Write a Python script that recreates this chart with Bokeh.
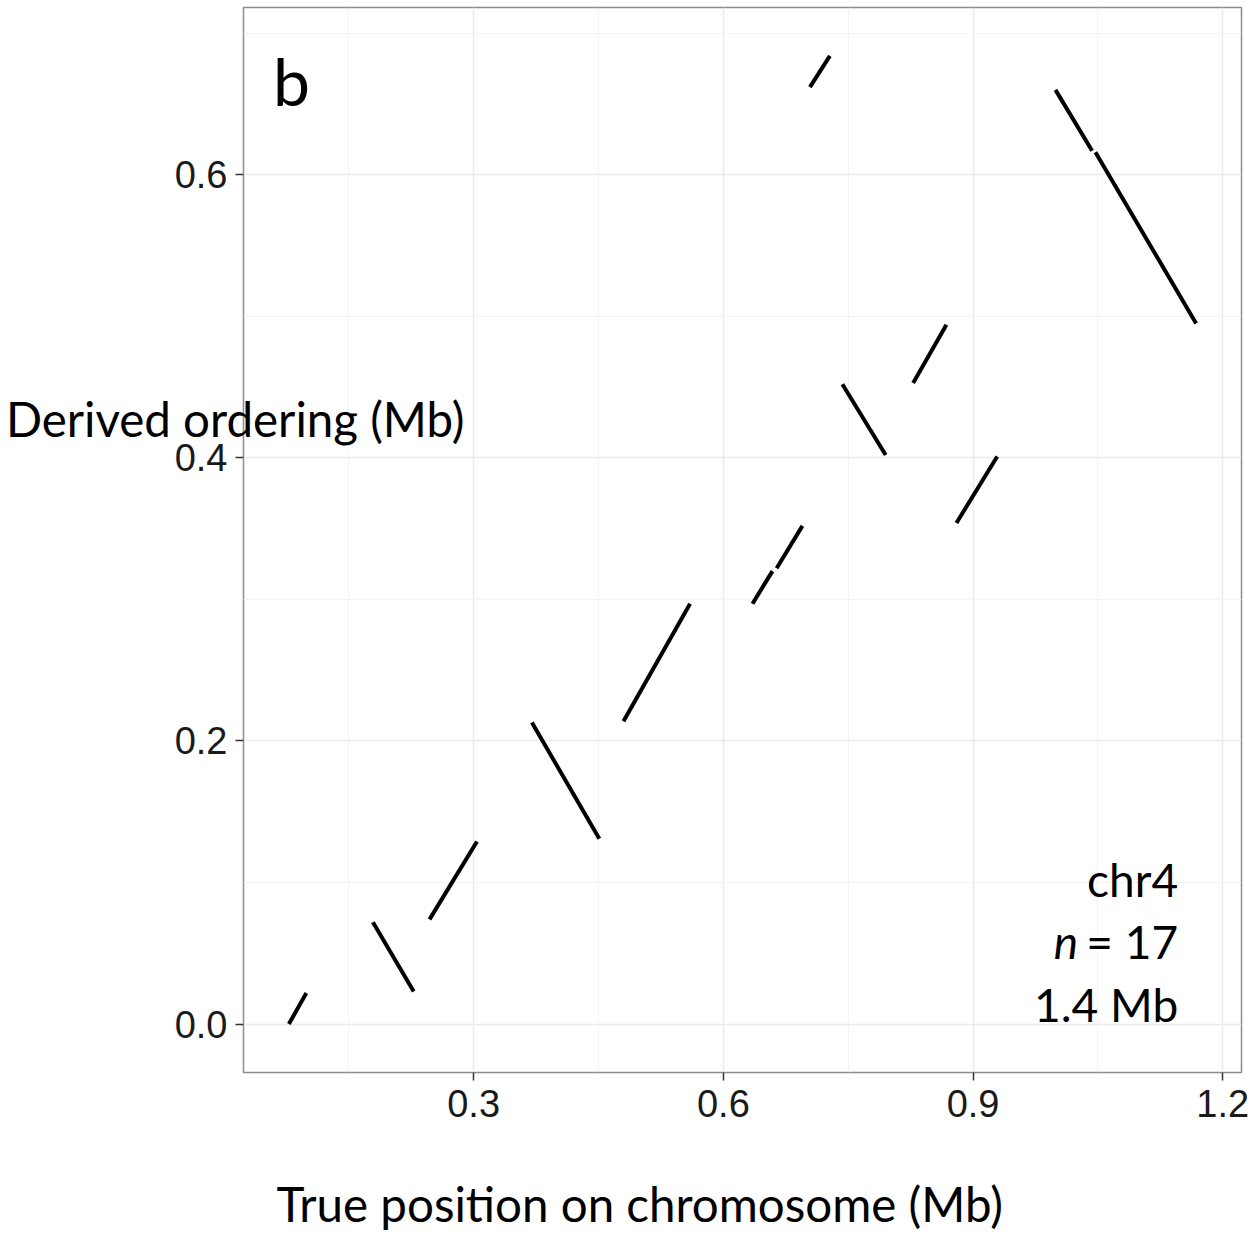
from bokeh.plotting import figure
from bokeh.models import Range1d, FixedTicker, PrintfTickFormatter, Label, LinearAxis
from bokeh.embed import file_html
from bokeh.resources import INLINE

# Syntenic blocks: true chromosome position vs. derived ordering (Mb)
true_start = [0.078, 0.179, 0.247, 0.370, 0.480, 0.635, 0.664, 0.704, 0.743, 0.828, 0.880, 0.999, 1.047]
true_end = [0.099, 0.228, 0.304, 0.451, 0.560, 0.659, 0.695, 0.728, 0.795, 0.868, 0.929, 1.043, 1.168]
derived_start = [0.000, 0.072, 0.074, 0.213, 0.214, 0.297, 0.322, 0.662, 0.452, 0.453, 0.354, 0.660, 0.616]
derived_end = [0.022, 0.023, 0.129, 0.131, 0.297, 0.320, 0.352, 0.684, 0.402, 0.494, 0.401, 0.617, 0.495]

x_ticks = [0.3, 0.6, 0.9, 1.2]
x_minor = [0.15, 0.45, 0.75, 1.05]
y_ticks = [0.0, 0.2, 0.4, 0.6]
y_minor = [0.1, 0.3, 0.5, 0.7]

x_title = "True position on chromosome (Mb)"
y_title = "Derived ordering (Mb)"
panel_tag = "b"
chrom_name = "chr4"
n_blocks = 17
chrom_len = "1.4 Mb"


def padded(lo, hi, frac=0.05):
    span = hi - lo
    return lo - span * frac, hi + span * frac


xs = true_start + true_end
ys = derived_start + derived_end
x_lo, x_hi = padded(min(xs), max(xs))
y_lo, y_hi = padded(min(ys), max(ys))

p = figure(
    width=1260, height=1234,
    x_range=Range1d(x_lo, x_hi), y_range=Range1d(y_lo, y_hi),
    output_backend="svg", toolbar_location=None,
    min_border_left=243, min_border_right=19,
    min_border_top=7, min_border_bottom=162,
)
p.background_fill_color = "white"
p.border_fill_color = "white"
p.outline_line_color = "#8c8c8c"
p.outline_line_width = 1.5

p.xaxis.ticker = FixedTicker(ticks=x_ticks, minor_ticks=x_minor)
p.yaxis.ticker = FixedTicker(ticks=y_ticks, minor_ticks=y_minor)
p.xgrid.ticker = p.xaxis.ticker
p.ygrid.ticker = p.yaxis.ticker
for ax in (p.xaxis, p.yaxis):
    ax.formatter = PrintfTickFormatter(format="%.1f")
    ax.axis_line_color = None
    ax.major_tick_line_color = "#333333"
    ax.major_tick_line_width = 1.5
    ax.major_tick_in = 0
    ax.major_tick_out = 8
    ax.minor_tick_line_color = None
    ax.major_label_text_font = "Liberation Sans"
    ax.major_label_text_font_size = "38px"
    ax.major_label_text_color = "#1a1a1a"
p.yaxis.major_label_standoff = 8
p.xaxis.major_label_standoff = 9

for g in (p.xgrid, p.ygrid):
    g.grid_line_color = "#ebebeb"
    g.grid_line_width = 1.5
    g.minor_grid_line_color = "#f3f3f3"
    g.minor_grid_line_width = 1

p.segment(x0=true_start, y0=derived_start, x1=true_end, y1=derived_end,
          line_color="black", line_width=4, line_cap="butt")

font = "Lato"


def title_axis(pos, text, standoff):
    ax = LinearAxis(ticker=FixedTicker(ticks=[pos], minor_ticks=[]),
                    major_label_overrides={pos: text})
    ax.axis_line_color = None
    ax.major_tick_line_color = None
    ax.minor_tick_line_color = None
    ax.major_tick_in = 0
    ax.major_tick_out = 0
    ax.major_label_standoff = standoff
    ax.major_label_text_font = font
    ax.major_label_text_font_size = "47.5px"
    ax.major_label_text_color = "black"
    return ax


# axis titles: horizontal y title reaching into the panel, x title centred on the page
p.add_layout(title_axis(0.428, y_title, -293), "left")
p.add_layout(title_axis(0.4995, x_title, 55), "below")

p.add_layout(Label(x=0.059, y=0.6667, text=panel_tag, text_font=font,
                   text_font_size="66px", text_color="black",
                   text_baseline="alphabetic"))

ann_x = 1.1464
p.add_layout(Label(x=ann_x, y=0.1019, text=chrom_name, text_font=font,
                   text_font_size="46px", text_align="right", text_color="black",
                   text_baseline="alphabetic"))
p.add_layout(Label(x=ann_x, y=0.0580, text=f"= {n_blocks}", text_font=font,
                   text_font_size="46px", text_align="right", text_color="black",
                   text_baseline="alphabetic"))
p.add_layout(Label(x=0.997, y=0.0580, text="n", text_font=font,
                   text_font_size="46px", text_font_style="italic", text_color="black",
                   text_baseline="alphabetic"))
p.add_layout(Label(x=ann_x, y=0.01415, text=chrom_len, text_font=font,
                   text_font_size="46px", text_align="right", text_color="black",
                   text_baseline="alphabetic"))

open("out.html", "w").write(file_html(p, INLINE))
